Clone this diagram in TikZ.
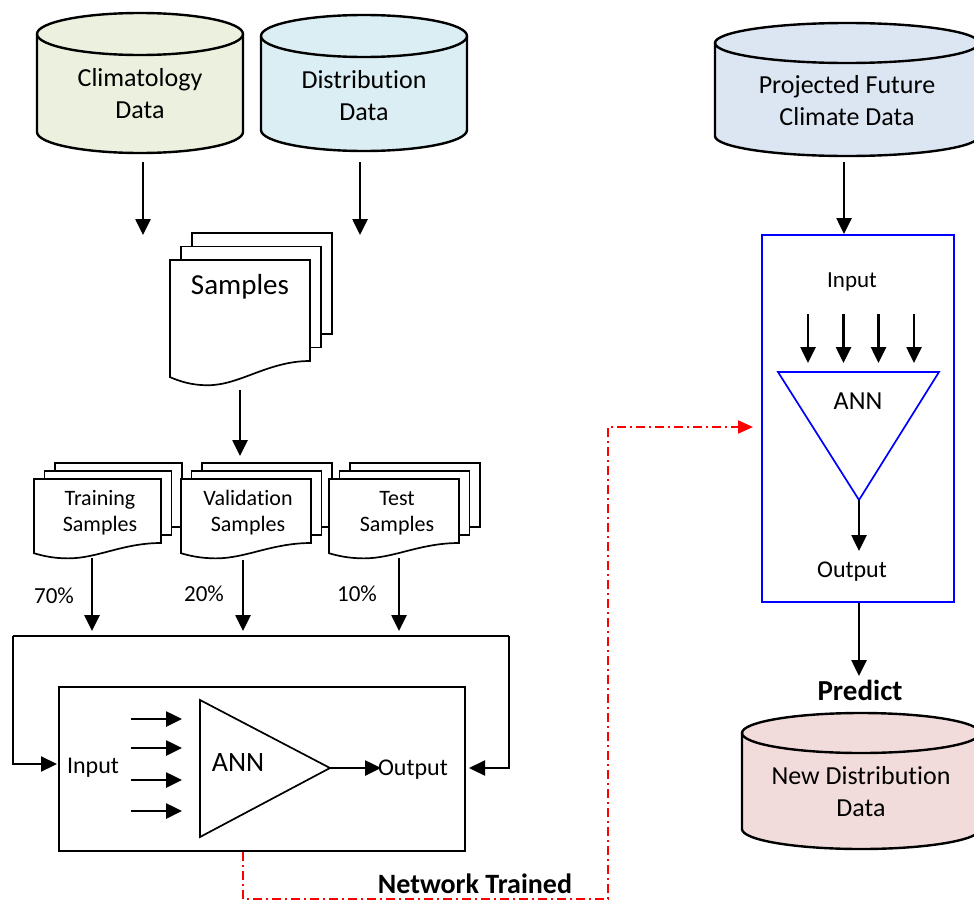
\documentclass[tikz,border=0pt]{standalone}
\usepackage{fontspec}
\setmainfont[Ligatures=NoCommon]{Carlito}
\usetikzlibrary{arrows.meta}
\definecolor{climfill}{HTML}{EBF1DE}
\definecolor{distfill}{HTML}{DBEEF4}
\definecolor{projfill}{HTML}{DCE6F2}
\definecolor{newfill}{HTML}{F2DCDB}
\definecolor{annblue}{HTML}{0000FF}
\definecolor{annred}{HTML}{FF0000}
\newcommand\fs[2]{\fontsize{#1}{#2}\selectfont}
\newcommand\mycyl[6]{% cx, rx, ytop, ybot, ry, fill
  \pgfmathsetmacro\cxa{#1-#2}\pgfmathsetmacro\cxb{#1+#2}%
  \pgfmathsetmacro\kx{0.5523*#2}\pgfmathsetmacro\ky{0.5523*#5}%
  \filldraw[cylline, fill=#6] (\cxa,#3) -- (\cxa,#4)
    .. controls (\cxa,#4+\ky) and (#1-\kx,#4+#5) .. (#1,#4+#5)
    .. controls (#1+\kx,#4+#5) and (\cxb,#4+\ky) .. (\cxb,#4)
    -- (\cxb,#3)
    .. controls (\cxb,#3-\ky) and (#1+\kx,#3-#5) .. (#1,#3-#5)
    .. controls (#1-\kx,#3-#5) and (\cxa,#3-\ky) .. (\cxa,#3) -- cycle;
  \draw[cylline] (\cxa,#3)
    .. controls (\cxa,#3+\ky) and (#1-\kx,#3+#5) .. (#1,#3+#5)
    .. controls (#1+\kx,#3+#5) and (\cxb,#3+\ky) .. (\cxb,#3);
}
\newcommand\docstack[6]{% x1, top, w, h, ox, oy
  \filldraw[page] (#1+2*#5,#2-2*#6) rectangle (#1+#3+2*#5,#2+#4-2*#6);
  \filldraw[page] (#1+#5,#2-#6) rectangle (#1+#3+#5,#2+#4-#6);
  \filldraw[page] (#1,#2) -- (#1+#3,#2) -- (#1+#3,#2+#4)
    .. controls (#1+0.7*#3,#2+#4) and (#1+0.5*#3,#2+1.24*#4) .. (#1+0.27*#3,#2+1.24*#4)
    .. controls (#1+0.15*#3,#2+1.24*#4) and (#1+0.07*#3,#2+1.2*#4) .. (#1,#2+1.16*#4) -- cycle;
}
\tikzset{
  cylline/.style={line width=2.4pt},
  page/.style={line width=1.7pt, fill=white},
  arr/.style={line width=2.6pt, -{Triangle[length=16pt,width=15pt]}},
  ln/.style={line width=2pt},
  txt/.style={inner sep=0pt, align=center, font=\fs{26}{32}},
  redarr/.style={annred, line width=2pt, dash pattern=on 9pt off 4pt on 2pt off 4pt, -{Triangle[length=15pt,width=13pt]}},
}
\begin{document}
\begin{tikzpicture}[x=1pt,y=-1pt]
\clip (0,0) rectangle (974,902);
\fill[white] (0,0) rectangle (974,902);

% ---------- top cylinders ----------
\mycyl{140}{103}{34}{132}{21}{climfill}
\node[txt] (clim) at (140,94) {Climatology\\Data};
\mycyl{364}{103}{36}{130}{21}{distfill}
\node[txt] (dist) at (364,96) {Distribution\\Data};

\coordinate (climout) at (143,162);
\coordinate (climin) at (143,235);
\coordinate (distout) at (360,162);
\coordinate (distin) at (360,235);
\draw[arr] (climout) -- (climin);
\draw[arr] (distout) -- (distin);

% ---------- Samples ----------
\docstack{170}{260}{140}{101}{11}{13.5}
\node[txt, font=\fs{29}{35}] (smp) at (240,287) {Samples};
\coordinate (smpout) at (240,390);
\coordinate (smpin) at (240,456);
\draw[arr] (smpout) -- (smpin);

% ---------- split samples ----------
\docstack{34}{479}{127}{64}{10.5}{8}
\docstack{181}{479}{130}{64}{10.5}{8}
\docstack{329}{479}{130}{64}{10.5}{8}
\node[txt, font=\fs{22}{26}] (trn) at (100,513) {Training\\Samples};
\node[txt, font=\fs{22}{26}] (val) at (248,513) {Validation\\Samples};
\node[txt, font=\fs{22}{26}] (tst) at (397,513) {Test\\Samples};

\coordinate (trnout) at (92,558);
\coordinate (valout) at (243,560);
\coordinate (tstout) at (399,558);
\coordinate (trnin) at (92,631);
\coordinate (valin) at (243,631);
\coordinate (tstin) at (399,631);
\draw[arr] (trnout) -- (trnin);
\draw[arr] (valout) -- (valin);
\draw[arr] (tstout) -- (tstin);
\node[txt, font=\fs{23}{28}] (p70) at (54,596) {70\%};
\node[txt, font=\fs{23}{28}] (p20) at (204,594) {20\%};
\node[txt, font=\fs{23}{28}] (p10) at (357,594) {10\%};

% ---------- training loop ----------
\coordinate (loopL) at (13,636);
\coordinate (loopR) at (509,636);
\coordinate (loopLb) at (13,764);
\coordinate (loopRb) at (509,768);
\coordinate (inL) at (57,764);
\coordinate (inR) at (469,768);
\draw[ln] (loopL) -- (loopR);
\draw[arr, line width=2.2pt] (loopL) -- (loopLb) -- (inL);
\draw[arr, line width=2.2pt] (loopR) -- (loopRb) -- (inR);

\node[draw, ln, minimum width=406pt, minimum height=164pt, inner sep=0pt] (trainbox) at (262,769) {};
\node[txt, font=\fs{24}{28}] (tinput) at (93,768) {Input};
\foreach \yy/\nm in {719/a,748/b,780/c,811/d}{
  \coordinate (ia\nm) at (131,\yy);
  \coordinate (ib\nm) at (182,\yy);
  \draw[arr] (ia\nm) -- (ib\nm);
}
\draw[line width=1.7pt] (200,700) -- (330,768) -- (200,837) -- cycle;
\coordinate (tapex) at (330,768);
\node[txt, font=\fs{28}{32}] (tann) at (238,763) {ANN};
\node[txt, font=\fs{24}{28}] (toutput) at (413,770) {Output};
\coordinate (toutin) at (381,768);
\draw[arr] (tapex) -- (toutin);

% ---------- network trained ----------
\node[txt, font=\bfseries\fs{28}{32}] (nettrained) at (475,884) {Network Trained};
\coordinate (r1) at (243,899);
\coordinate (r2) at (608,899);
\coordinate (r3) at (608,427);
\coordinate (r4) at (753,427);
\draw[redarr] ([xshift=-19pt]trainbox.south) -- (r1) -- (r2) -- (r3) -- (r4);

% ---------- right side ----------
\mycyl{847}{132}{43}{136}{20}{projfill}
\node[txt] (proj) at (847,101) {Projected Future\\Climate Data};
\coordinate (projout) at (844,162);
\node[draw=annblue, line width=2pt, minimum width=192pt, minimum height=367pt, inner sep=0pt] (predbox) at (858,418.5) {};
\draw[arr] (projout) -- (predbox.north -| projout);
\node[txt, font=\fs{23}{27}] (pinput) at (852,282) {Input};
\foreach \xx/\nm in {808/a,843.5/b,878.5/c,914/d}{
  \coordinate (pa\nm) at (\xx,314);
  \coordinate (pb\nm) at (\xx,363);
  \draw[arr] (pa\nm) -- (pb\nm);
}
\draw[annblue, line width=1.7pt] (778,372) -- (939,372) -- (859,500) -- cycle;
\coordinate (papex) at (859,500);
\node[txt, font=\fs{26}{30}] (pann) at (858,401) {ANN};
\coordinate (poutin) at (859,551);
\draw[arr] (papex) -- (poutin);
\node[txt, font=\fs{24}{28}] (poutput) at (852,572) {Output};
\coordinate (predin) at (859,676);
\draw[arr] (predbox.south -| predin) -- (predin);
\node[txt, font=\bfseries\fs{29}{32}] (predict) at (860,690) {Predict};

\mycyl{861}{119}{733}{829}{20}{newfill}
\node[txt] (newdist) at (861,792) {New Distribution\\Data};
\end{tikzpicture}
\end{document}
